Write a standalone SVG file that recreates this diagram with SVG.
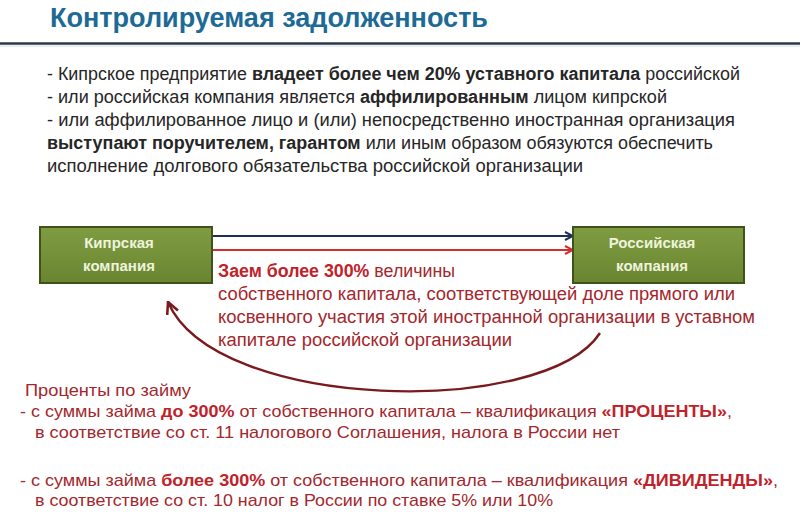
<svg xmlns="http://www.w3.org/2000/svg" width="800" height="520" viewBox="0 0 800 520">
<style>
text{font-family:"Liberation Sans","Open Sans",Arial,sans-serif}
.title{font-size:27.5px;font-weight:bold;fill:#1d6a96}
.top{font-size:17.5px;fill:#262626}
.b{font-weight:bold}
.box{fill:url(#g);stroke:#3f521c;stroke-width:2}
.bl{font-size:15px;font-weight:bold;fill:#eef3dc;text-anchor:middle}
.red{font-size:18px;fill:#a3272c}
.rb{font-weight:bold;fill:#c0222a}
.bot{font-size:17px;fill:#a3272c}
</style>
<defs>
<linearGradient id="g" x1="0" y1="0" x2="0" y2="1">
<stop offset="0" stop-color="#7f9c42"/>
<stop offset="1" stop-color="#6a8530"/>
</linearGradient>
<marker id="ab" viewBox="0 0 10 10" refX="9" refY="5" markerWidth="10" markerHeight="10" markerUnits="userSpaceOnUse" orient="auto">
<path d="M1,1 L9,5 L1,9" fill="none" stroke="#1f2f5a" stroke-width="2"/>
</marker>
<marker id="ar" viewBox="0 0 10 10" refX="9" refY="5" markerWidth="10" markerHeight="10" markerUnits="userSpaceOnUse" orient="auto">
<path d="M1,1 L9,5 L1,9" fill="none" stroke="#d0302c" stroke-width="2"/>
</marker>
<marker id="ac" viewBox="0 0 12 12" refX="11" refY="6" markerWidth="14" markerHeight="14" markerUnits="userSpaceOnUse" orient="auto">
<path d="M1,1 L11,6 L1,11" fill="none" stroke="#7a1a1e" stroke-width="2.2"/>
</marker>
</defs>
<rect width="800" height="520" fill="#ffffff"/>
<text class="title" x="50" y="27" textLength="438" lengthAdjust="spacingAndGlyphs">Контролируемая задолженность</text>
<line x1="0" y1="43.5" x2="800" y2="43.5" stroke="#2e3844" stroke-width="2.5"/>
<line x1="0" y1="46" x2="800" y2="46" stroke="#cfe0ea" stroke-width="1"/>

<text class="top" x="47" y="80" textLength="693" lengthAdjust="spacingAndGlyphs">- Кипрское предприятие <tspan class="b">владеет более чем 20% уставного капитала</tspan> российской</text>
<text class="top" x="47" y="103" textLength="620" lengthAdjust="spacingAndGlyphs">- или российская компания является <tspan class="b">аффилированным</tspan> лицом кипрской</text>
<text class="top" x="47" y="126" textLength="688" lengthAdjust="spacingAndGlyphs">- или аффилированное лицо и (или) непосредственно иностранная организация</text>
<text class="top" x="47" y="149" textLength="666" lengthAdjust="spacingAndGlyphs"><tspan class="b">выступают поручителем, гарантом</tspan> или иным образом обязуются обеспечить</text>
<text class="top" x="47" y="172" textLength="536" lengthAdjust="spacingAndGlyphs">исполнение долгового обязательства российской организации</text>

<g id="connectors">
<line x1="212" y1="236" x2="573" y2="236" stroke="#1f2f5a" stroke-width="2" marker-end="url(#ab)"/>
<line x1="212" y1="250" x2="573" y2="250" stroke="#d0302c" stroke-width="2" marker-end="url(#ar)"/>
<path d="M600,333 C545,418 215,412 168,302" fill="none" stroke="#7a1a1e" stroke-width="2.4" marker-end="url(#ac)"/>
</g>

<g id="cyprus">
<rect class="box" x="40" y="227" width="172" height="56"/>
<text class="bl" x="119" y="248">Кипрская</text>
<text class="bl" x="119" y="271">компания</text>
</g>
<g id="russia">
<rect class="box" x="573" y="227" width="171" height="56"/>
<text class="bl" x="652" y="248">Российская</text>
<text class="bl" x="652" y="271">компания</text>
</g>

<g id="loan-label">
<text class="red" x="218" y="277" textLength="237" lengthAdjust="spacingAndGlyphs"><tspan class="rb">Заем более 300%</tspan> величины</text>
<text class="red" x="218" y="300" textLength="517" lengthAdjust="spacingAndGlyphs">собственного капитала, соответствующей доле прямого или</text>
<text class="red" x="218" y="323" textLength="537" lengthAdjust="spacingAndGlyphs">косвенного участия этой иностранной организации в уставном</text>
<text class="red" x="218" y="346" textLength="294" lengthAdjust="spacingAndGlyphs">капитале российской организации</text>
</g>

<text class="bot" x="25" y="396" textLength="166" lengthAdjust="spacingAndGlyphs">Проценты по займу</text>
<text class="bot" x="20" y="417" textLength="712" lengthAdjust="spacingAndGlyphs">- с суммы займа <tspan class="rb">до 300%</tspan> от собственного капитала – квалификация <tspan class="rb">«ПРОЦЕНТЫ»</tspan>,</text>
<text class="bot" x="35" y="438" textLength="585" lengthAdjust="spacingAndGlyphs">в соответствие со ст. 11 налогового Соглашения, налога в России нет</text>
<text class="bot" x="20" y="486" textLength="758" lengthAdjust="spacingAndGlyphs">- с суммы займа <tspan class="rb">более 300%</tspan> от собственного капитала – квалификация <tspan class="rb">«ДИВИДЕНДЫ»</tspan>,</text>
<text class="bot" x="35" y="506" textLength="518" lengthAdjust="spacingAndGlyphs">в соответствие со ст. 10 налог в России по ставке 5% или 10%</text>
</svg>
